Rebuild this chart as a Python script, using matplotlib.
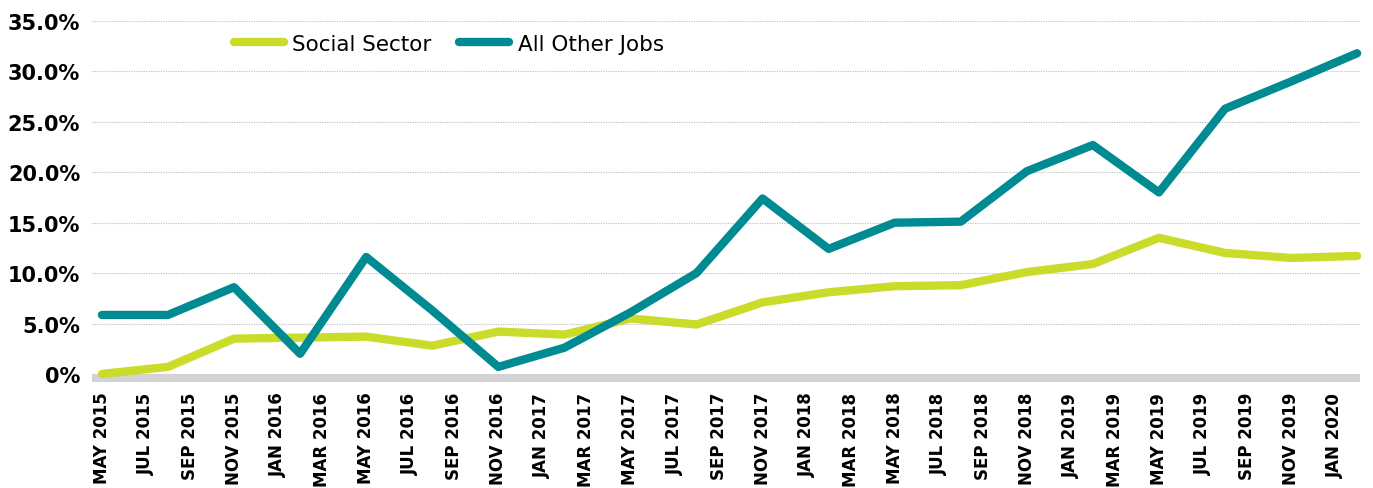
import matplotlib
matplotlib.use("Agg")
import matplotlib.pyplot as plt

# tick labels on the x axis (every two months)
month_labels = ["MAY 2015", "JUL 2015", "SEP 2015", "NOV 2015", "JAN 2016", "MAR 2016",
                "MAY 2016", "JUL 2016", "SEP 2016", "NOV 2016", "JAN 2017", "MAR 2017",
                "MAY 2017", "JUL 2017", "SEP 2017", "NOV 2017", "JAN 2018", "MAR 2018",
                "MAY 2018", "JUL 2018", "SEP 2018", "NOV 2018", "JAN 2019", "MAR 2019",
                "MAY 2019", "JUL 2019", "SEP 2019", "NOV 2019", "JAN 2020"]

# quarterly values, May 2015 .. Feb 2020 (percent)
social = [0.0, 0.7, 3.5, 3.6, 3.7, 2.8, 4.2, 3.9, 5.5, 4.9,
          7.1, 8.1, 8.7, 8.8, 10.1, 10.9, 13.5, 12.0, 11.5, 11.7]
other = [5.85, 5.85, 8.6, 2.0, 11.6, 6.3, 0.7, 2.6, 6.1, 10.0,
         17.4, 12.4, 15.0, 15.1, 20.1, 22.7, 18.0, 26.3, 29.0, 31.8]

y_ticks = [0, 5, 10, 15, 20, 25, 30, 35]
y_labels = ["0%", "5.0%", "10.0%", "15.0%", "20.0%", "25.0%", "30.0%", "35.0%"]

lime = "#CADB2A"
teal = "#008A91"

plt.rcParams['font.family'] = ['DejaVu Sans']

fig = plt.figure(figsize=(13.73, 4.89), dpi=100)
ax = fig.add_axes([92/1373, 1-383/489, (1360-92)/1373, (383-22)/489])

xq = [3*i for i in range(len(social))]
xt = [2*i for i in range(len(month_labels))]

ax.plot(xq, social, color=lime, lw=6, solid_capstyle='round', solid_joinstyle='round',
        label="Social Sector", clip_on=False, zorder=3)
ax.plot(xq, other, color=teal, lw=6, solid_capstyle='round', solid_joinstyle='round',
        label="All Other Jobs", clip_on=False, zorder=4)

ax.set_xlim(-0.45, 57.13)
ax.set_ylim(-0.8, 35)

# grey base band under zero
ax.axhspan(-0.8, 0, color="#D3D3D5", lw=0, zorder=2)

ax.set_yticks(y_ticks)
ax.set_yticklabels(y_labels, fontsize=15, fontweight='bold')
ax.set_xticks(xt)
ax.set_xticklabels(month_labels, rotation=90, fontsize=12, fontweight='bold',
                   ha='center', va='top')
ax.tick_params(axis='both', length=0)
ax.tick_params(axis='y', pad=8.5)
ax.tick_params(axis='x', pad=7)

ax.yaxis.grid(True, color="#BBBBBB", lw=0.8, linestyle=(0, (1, 1.2)))
ax.set_axisbelow(True)
for s in ax.spines.values():
    s.set_visible(False)

ax.legend(loc='center left', bbox_to_anchor=(234/1373, 1-45/489),
          bbox_transform=fig.transFigure, ncol=2, frameon=False,
          fontsize=15.5, handlelength=2.3, handletextpad=0.4,
          columnspacing=1.3, borderpad=0, borderaxespad=0)

fig.savefig("out.png", dpi=100)
